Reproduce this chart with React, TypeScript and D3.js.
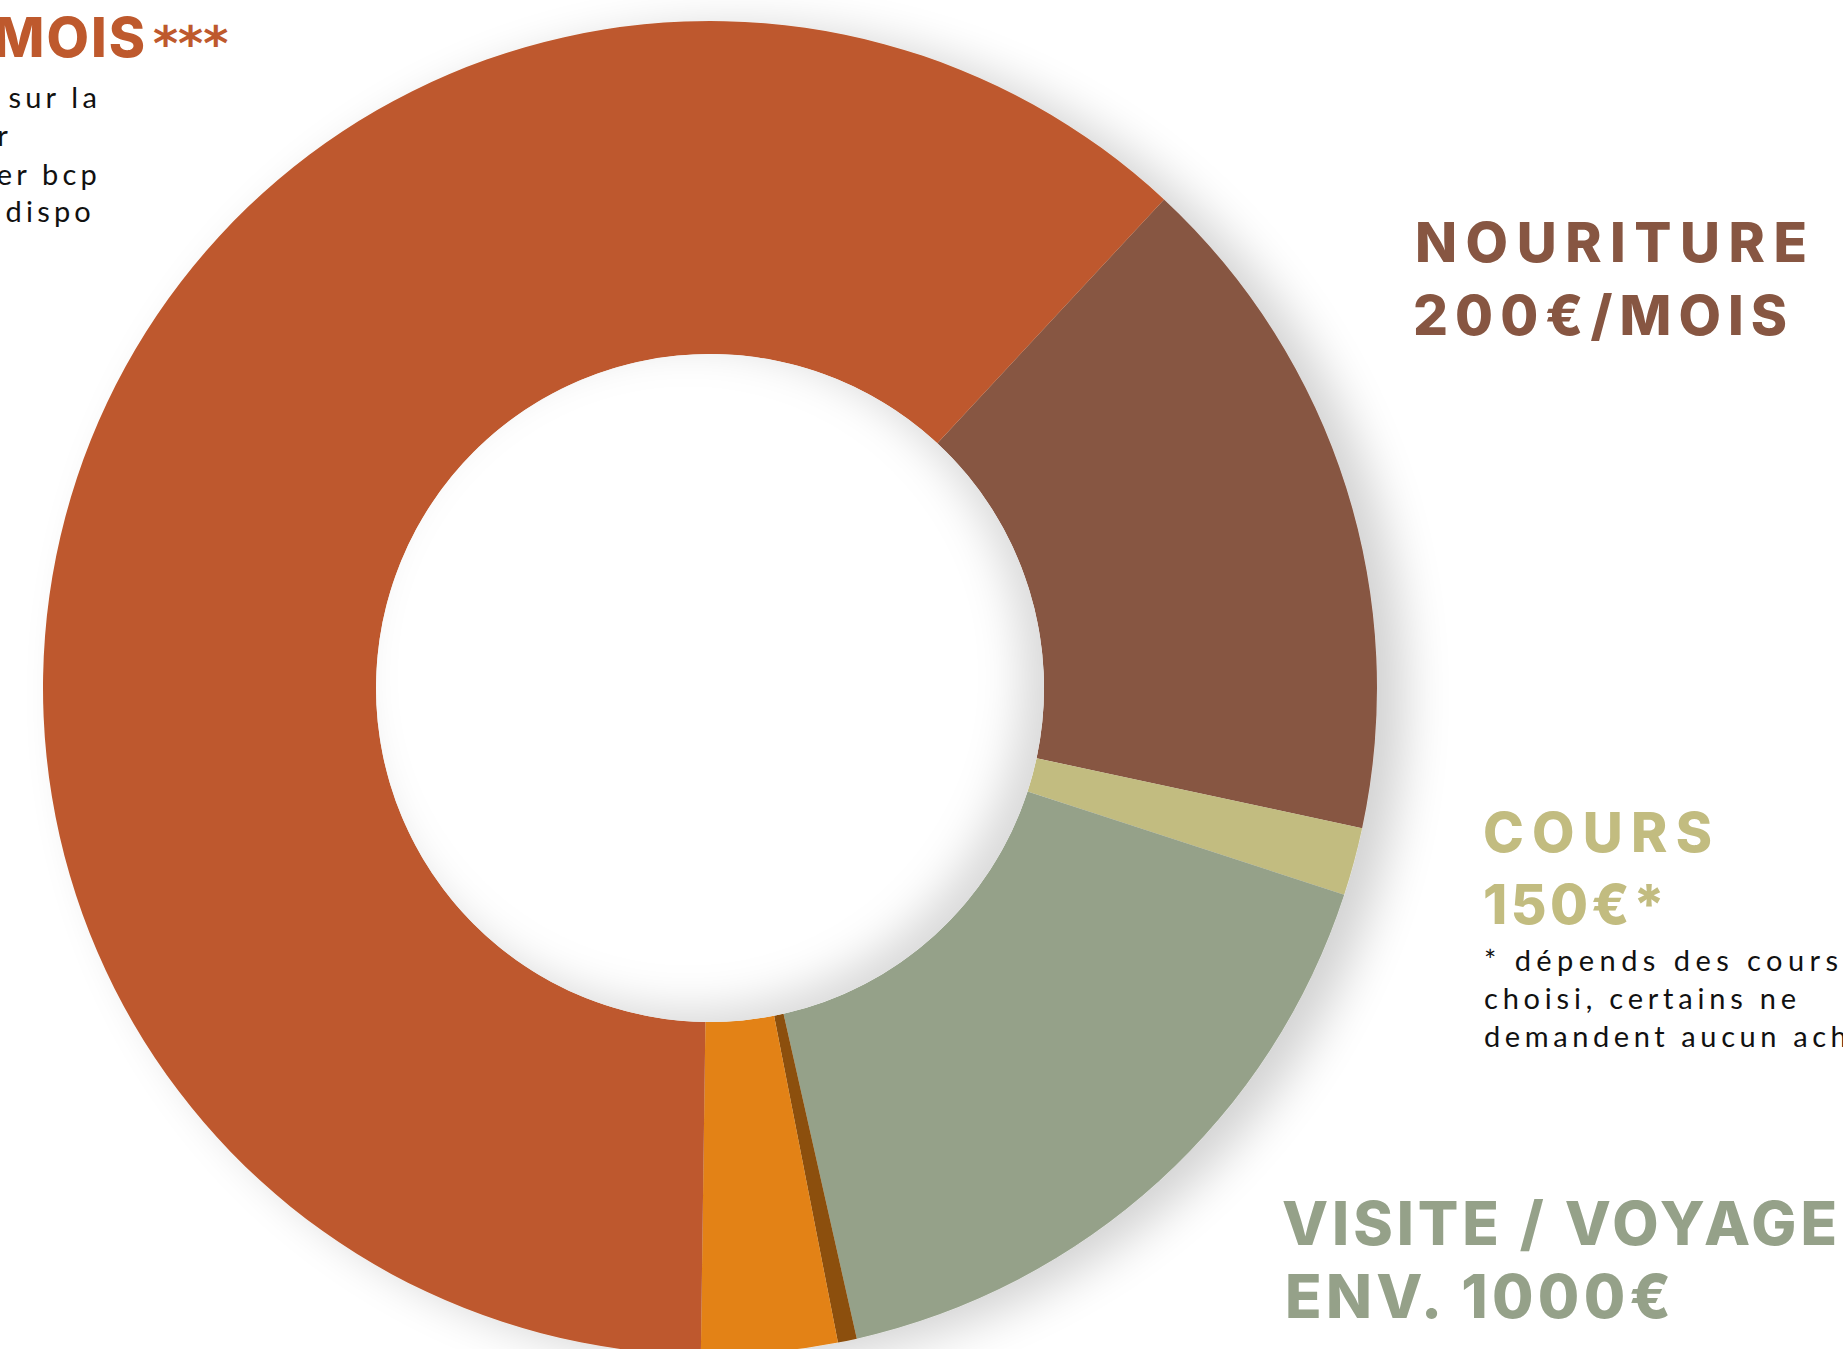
import React from "react";
import * as d3 from "d3";

const categories = ["Nouriture", "Cours", "Visite / Voyage", "Divers", "Transport", "Logement"];
const values = [1000, 100, 1000, 28, 200, 3750];
const colors = ["#875642", "#C2BC80", "#95A189", "#8C4F0B", "#E38213", "#BE592D"];

const W = 1843;
const H = 1349;
const CX = 710;
const CY = 688;
const R_OUT = 667;
const R_IN = 334;
const START_DEG = 42.9;

const headFont = "Inter, 'DejaVu Sans', sans-serif";
const bodyFont = "Lato, 'Open Sans', sans-serif";

export default function App() {
  const pie = d3
    .pie<number>()
    .sort(null)
    .value((d) => d)
    .startAngle((START_DEG * Math.PI) / 180)
    .endAngle((START_DEG * Math.PI) / 180 + 2 * Math.PI);
  const arcs = pie(values);
  const arc = d3.arc<d3.PieArcDatum<number>>().innerRadius(R_IN).outerRadius(R_OUT);

  const holeShadowPath =
    `M${-W},${-H}H${2 * W}V${2 * H}H${-W}Z ` +
    `M${-22 + R_IN},${-12} A${R_IN},${R_IN} 0 1,0 ${-22 - R_IN},${-12} A${R_IN},${R_IN} 0 1,0 ${-22 + R_IN},${-12}Z`;

  return (
    <svg
      width={W}
      height={H}
      viewBox={`0 0 ${W} ${H}`}
      style={{ position: "absolute", left: 0, top: 0, background: "#fff", overflow: "hidden" }}
    >
      <defs>
        <filter id="outerShadow" x="-20%" y="-20%" width="150%" height="150%">
          <feGaussianBlur in="SourceAlpha" stdDeviation="24" />
          <feOffset dx="28" dy="8" result="off" />
          <feComponentTransfer>
            <feFuncA type="linear" slope="0.18" />
          </feComponentTransfer>
          <feMerge>
            <feMergeNode />
            <feMergeNode in="SourceGraphic" />
          </feMerge>
        </filter>
        <filter id="blurInner" x="-50%" y="-50%" width="200%" height="200%">
          <feGaussianBlur stdDeviation="22" />
        </filter>
        <clipPath id="holeClip">
          <circle cx={0} cy={0} r={R_IN} />
        </clipPath>
      </defs>
      <rect x={0} y={0} width={W} height={H} fill="#fff" />
      <g transform={`translate(${CX},${CY})`}>
        <g filter="url(#outerShadow)">
          {arcs.map((a, i) => (
            <path key={categories[i]} d={arc(a) || ""} fill={colors[i]} />
          ))}
        </g>
        <circle cx={0} cy={0} r={R_IN} fill="#fff" />
        <g clipPath="url(#holeClip)">
          <path d={holeShadowPath} fill="#000" fillOpacity={0.15} fillRule="evenodd" filter="url(#blurInner)" />
        </g>
      </g>

      {/* top-left label (cut off at the page edge) */}
      <g fontWeight={800} fill="#BE592D">
        <text x={147} y={57} textAnchor="end" letterSpacing={2} fontFamily={headFont} fontSize={55}>MOIS</text>
        <text x={153} y={60} fontFamily="'DejaVu Sans', sans-serif" fontWeight={700} fontSize={48} letterSpacing={0}>***</text>
      </g>
      <g fontFamily={bodyFont} fontWeight={400} fontSize={29} letterSpacing={4.2} fill="#111" textAnchor="end">
        <text x={101} y={108}>sur la</text>
        <text x={12} y={146}>r</text>
        <text x={101} y={185}>er bcp</text>
        <text x={95} y={222}>dispo</text>
      </g>

      {/* Nouriture */}
      <g fontFamily={headFont} fontWeight={800} fill="#875642">
        <text x={1415} y={262} fontSize={55} textLength={392} lengthAdjust="spacing">NOURITURE</text>
        <text x={1413} y={335} fontSize={55} textLength={374} lengthAdjust="spacing">200€/MOIS</text>
      </g>

      {/* Cours */}
      <g fontFamily={headFont} fontWeight={800} fill="#C2BC80">
        <text x={1483} y={852} fontSize={55} textLength={229} lengthAdjust="spacing">COURS</text>
        <text x={1483} y={924} fontSize={55} textLength={182} lengthAdjust="spacing">150€*</text>
      </g>
      <g fontFamily={bodyFont} fontWeight={400} fontSize={29} fill="#111">
        <text x={1484} y={971} textLength={354} lengthAdjust="spacing">* dépends des cours</text>
        <text x={1484} y={1009} textLength={312} lengthAdjust="spacing">choisi, certains ne</text>
        <text x={1484} y={1047} letterSpacing={4.6}>demandent aucun achat</text>
      </g>

      {/* Visite */}
      <g fontFamily={headFont} fontWeight={800} fill="#95A189">
        <text x={1282} y={1245} fontSize={60} textLength={555} lengthAdjust="spacing">VISITE / VOYAGE</text>
        <text x={1285} y={1318} fontSize={60} textLength={386} lengthAdjust="spacing">ENV. 1000€</text>
      </g>
    </svg>
  );
}
